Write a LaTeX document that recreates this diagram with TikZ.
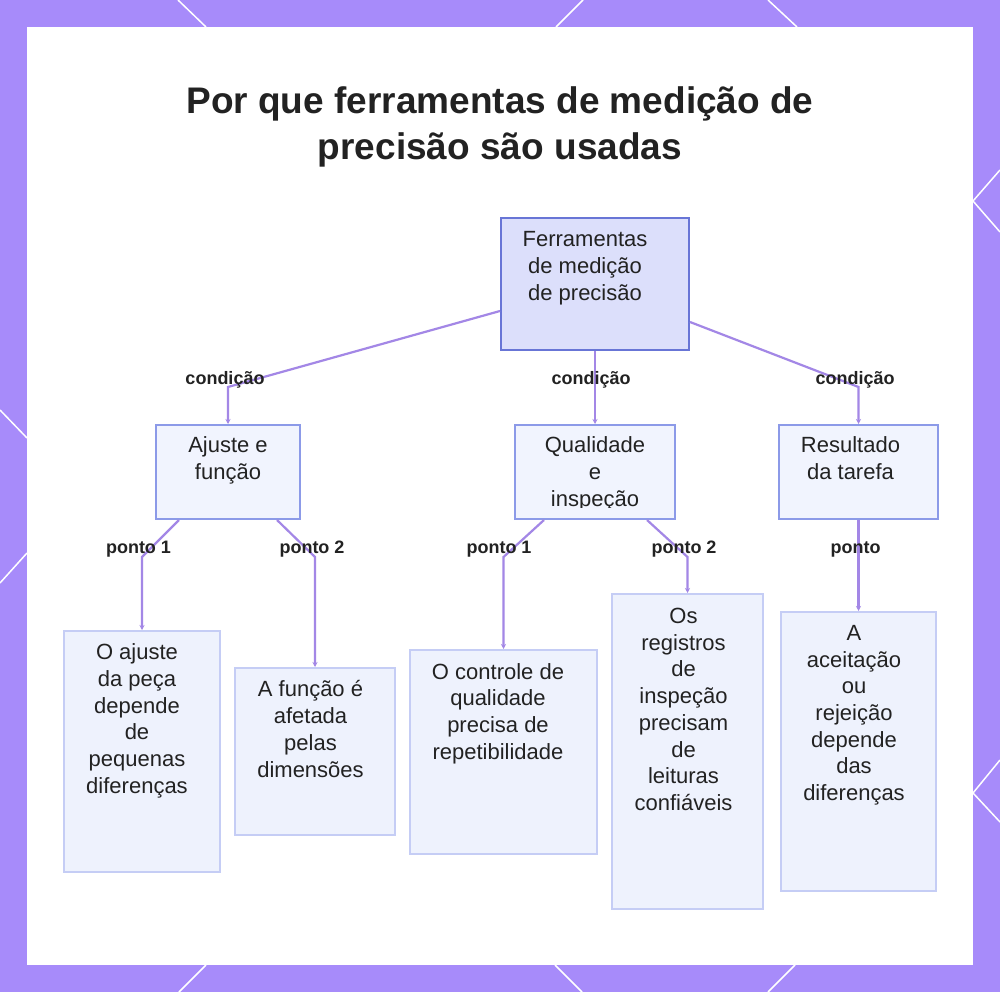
\documentclass[tikz,border=0pt]{standalone}
\usepackage{fontspec}
\setmainfont{Liberation Sans}
\usetikzlibrary{arrows.meta,calc}
\definecolor{bgpurple}{HTML}{A78BFA}
\definecolor{connc}{HTML}{A387E6}
\definecolor{topfill}{HTML}{DCDFFB}
\definecolor{topdraw}{HTML}{6875D6}
\definecolor{midfill}{HTML}{F1F4FE}
\definecolor{middraw}{HTML}{8C9AE8}
\definecolor{leaffill}{HTML}{EEF2FD}
\definecolor{leafdraw}{HTML}{C5CDF5}
\definecolor{textdark}{HTML}{222222}
\tikzset{
  topbox/.style={draw=topdraw, fill=topfill, line width=2pt, anchor=north west, inner sep=0pt},
  midbox/.style={draw=middraw, fill=midfill, line width=2pt, anchor=north west, inner sep=0pt},
  leafbox/.style={draw=leafdraw, fill=leaffill, line width=2pt, anchor=north west, inner sep=0pt},
  txt/.style={font=\fontsize{22}{26.7}\selectfont, align=center, inner sep=0pt, text=textdark, anchor=north},
  lbl/.style={font=\bfseries\fontsize{18}{21}\selectfont, inner sep=0pt, text=textdark, anchor=base},
  conn/.style={draw=connc, line width=2.2pt, -{Stealth[length=5pt,width=5pt]}},
  deco/.style={draw=white, line width=1.5pt}
}
\begin{document}
\begin{tikzpicture}[x=1pt,y=-1pt]
\useasboundingbox (0,0) rectangle (1000,992);
\fill[bgpurple] (0,0) rectangle (1000,992);
\fill[white] (27,27) rectangle (973,965);
% decorative border lines
\draw[deco] (178,0) -- (206,27);
\draw[deco] (583,0) -- (556,27);
\draw[deco] (768,0) -- (797,27);
\draw[deco] (1000,170) -- (973,201) -- (1000,232);
\draw[deco] (1000,760) -- (973,793) -- (1000,822);
\draw[deco] (0,410) -- (27,438);
\draw[deco] (27,553) -- (0,583);
\draw[deco] (206,965) -- (179,992);
\draw[deco] (555,965) -- (582,992);
\draw[deco] (795,965) -- (768,992);

% title
\node[font=\bfseries\fontsize{37}{46}\selectfont, align=center, inner sep=0pt, text=textdark, anchor=north] (title) at (500,86)
  {Por que ferramentas de medição de\\precisão são usadas};

% boxes
\node[topbox, minimum width=188pt, minimum height=132pt] (top) at (500,217) {};
\node[midbox, minimum width=144pt, minimum height=94pt] (c1) at (155,424) {};
\node[midbox, minimum width=160pt, minimum height=94pt] (c2) at (514,424) {};
\node[midbox, minimum width=159pt, minimum height=94pt] (c3) at (778,424) {};
\node[leafbox, minimum width=156pt, minimum height=241pt] (l1) at (63,630) {};
\node[leafbox, minimum width=160pt, minimum height=167pt] (l2) at (234,667) {};
\node[leafbox, minimum width=187pt, minimum height=204pt] (l3) at (409,649) {};
\node[leafbox, minimum width=151pt, minimum height=315pt] (l4) at (611,593) {};
\node[leafbox, minimum width=155pt, minimum height=279pt] (l5) at (780,611) {};

% bend points
\coordinate (b1) at ($(c1.north)+(0,-37)$);
\coordinate (b3) at ($(c3.north)+(0,-37)$);
\coordinate (d1) at ($(l1.north |- c1.south)+(0,37)$);
\coordinate (d2) at ($(l2.north |- c1.south)+(0,37)$);
\coordinate (d3) at ($(l3.north |- c2.south)+(0,37)$);
\coordinate (d4) at ($(l4.north |- c2.south)+(0,37)$);

% connectors
\draw[conn] ([yshift=-27pt]top.west) -- (b1) -- (c1.north);
\draw[conn] (top.south) -- (c2.north);
\draw[conn] ([yshift=-38pt]top.east) -- (b3) -- (c3.north);
\draw[conn] ([xshift=-49pt]c1.south) -- (d1) -- (l1.north);
\draw[conn] ([xshift=49pt]c1.south) -- (d2) -- (l2.north);
\draw[conn] ([xshift=-51pt]c2.south) -- (d3) -- (l3.north);
\draw[conn] ([xshift=52pt]c2.south) -- (d4) -- (l4.north);
\draw[conn] (c3.south) -- (l5.north);

% connector labels
\node[lbl] (k1) at (225,384) {condição};
\node[lbl] (k2) at (591,384) {condição};
\node[lbl] (k3) at (855,384) {condição};
\node[lbl] (p1) at (138.5,553) {ponto 1};
\node[lbl] (p2) at (312,553) {ponto 2};
\node[lbl] (p3) at (499,553) {ponto 1};
\node[lbl] (p4) at (684,553) {ponto 2};
\node[lbl] (p5) at (855.5,553) {ponto};

% box texts
\node[txt] (topt) at ([xshift=-10pt,yshift=-14.5pt]top.north) {Ferramentas\\de medição\\de precisão};
\node[txt] (c1t) at ([yshift=-12.5pt]c1.north) {Ajuste e\\função};
\begin{scope}
\clip (514,424) rectangle (674,507);
\node[txt] (c2t) at ([yshift=-12.5pt]c2.north) {Qualidade\\e\\inspeção};
\end{scope}
\node[txt] (c3t) at ([xshift=-8pt,yshift=-12.5pt]c3.north) {Resultado\\da tarefa};
\node[txt] (l1t) at ([xshift=-5pt,yshift=-13.5pt]l1.north) {O ajuste\\da peça\\depende\\de\\pequenas\\diferenças};
\node[txt] (l2t) at ([xshift=-4.5pt,yshift=-13.5pt]l2.north) {A função é\\afetada\\pelas\\dimensões};
\node[txt] (l3t) at ([xshift=-5.5pt,yshift=-14pt]l3.north) {O controle de\\qualidade\\precisa de\\repetibilidade};
\node[txt] (l4t) at ([xshift=-4pt,yshift=-15pt]l4.north) {Os\\registros\\de\\inspeção\\precisam\\de\\leituras\\confiáveis};
\node[txt] (l5t) at ([xshift=-4.5pt,yshift=-14pt]l5.north) {A\\aceitação\\ou\\rejeição\\depende\\das\\diferenças};
\end{tikzpicture}
\end{document}
